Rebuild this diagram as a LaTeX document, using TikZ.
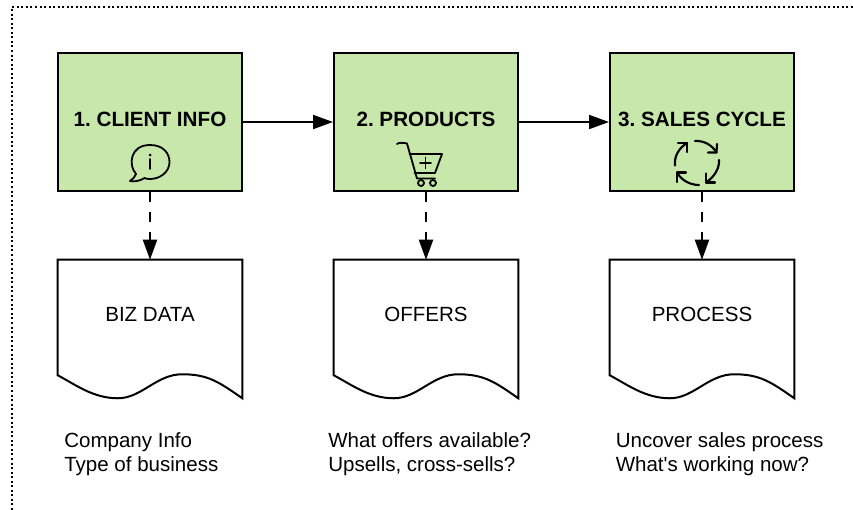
\documentclass[tikz,border=0pt]{standalone}
\usepackage{fontspec}
\setmainfont[Ligatures=TeXOff]{Liberation Sans}
\usetikzlibrary{arrows.meta}
\definecolor{boxgreen}{HTML}{C7E7AB}
\frenchspacing
\tikzset{
  stagebox/.style={draw=black,line width=1.5pt,fill=boxgreen,minimum width=138pt,minimum height=103.5pt,inner sep=0pt},
  docanchor/.style={minimum width=138pt,minimum height=103.5pt,inner sep=0pt},
  doclabel/.style={font=\fontsize{15.4}{18}\selectfont,inner sep=0pt},
  steptitle/.style={font=\fontsize{15.5}{18}\selectfont\bfseries,inner sep=0pt},
  notes/.style={font=\fontsize{15.4}{18}\selectfont,align=left,anchor=north west,inner sep=0pt},
  flow/.style={line width=1.5pt,-{Triangle[length=15pt,width=10.5pt]}},
  dashflow/.style={line width=1.5pt,dash pattern=on 7.5pt off 7.5pt,-{Triangle[length=15pt,width=10.5pt]}},
  docline/.style={draw=black,line width=1.5pt,fill=white,line join=miter},
  icon/.style={line width=1.35pt,line cap=round,line join=round},
  cycleicon/.style={line width=1.6pt,line cap=round,line join=round},
  frameline/.style={line width=1.5pt,dash pattern=on 1.5pt off 1.9pt}
}
\newcommand{\docshape}[1]{%
  \path[docline] (#1.north west) -- (#1.north east) -- (#1.south east)
    .. controls +(-17.25pt,12pt) and +(19.5pt,0pt) .. ([xshift=-45pt,yshift=18pt]#1.south east)
    .. controls +(-19.5pt,0pt) and +(18pt,0pt) .. ([xshift=45pt,yshift=0pt]#1.south west)
    .. controls +(-18pt,0pt) and +(14pt,-7.5pt) .. ([yshift=17.25pt]#1.south west) -- cycle;}
\begin{document}
\begin{tikzpicture}[x=0.75pt,y=-0.75pt]
\useasboundingbox (0,0) rectangle (853,510);
\draw[frameline] (853,7) -- (12,7) -- (12,510);
% process boxes
\node[stagebox] (b1) at (150,122) {};
\node[stagebox] (b2) at (426,122) {};
\node[stagebox] (b3) at (702,122) {};
\node[steptitle] (t1) at (150,119.4) {1. CLIENT INFO};
\node[steptitle] (t2) at (426,119.4) {2. PRODUCTS};
\node[steptitle] (t3) at (702,119.4) {3. SALES CYCLE};
% documents
\node[docanchor] (d1) at (150,329) {};
\node[docanchor] (d2) at (426,329) {};
\node[docanchor] (d3) at (702,329) {};
\docshape{d1}\docshape{d2}\docshape{d3}
\node[doclabel] (l1) at (150,314.4) {BIZ DATA};
\node[doclabel] (l2) at (426,314.4) {OFFERS};
\node[doclabel] (l3) at (702,314.4) {PROCESS};
% connectors
\draw[flow] (b1.east) -- (b2.west);
\draw[flow] (b2.east) -- (b3.west);
\draw[dashflow] (b1.south) -- (d1.north);
\draw[dashflow] (b2.south) -- (d2.north);
\draw[dashflow] (b3.south) -- (d3.north);
% notes
\node[notes] (n1) at (64,432.4) {Company Info\\Type of business};
\node[notes] (n2) at (328,432.4) {What offers available?\\Upsells, cross-sells?};
\node[notes] (n3) at (615.5,432.4) {Uncover sales process\\What's working now?};
% info icon
\draw[icon] (136,174) .. controls (128,165) and (130,145) .. (150,145)
  .. controls (163,145) and (169.5,153) .. (169.5,162)
  .. controls (169.5,172) and (160,179) .. (150,179)
  .. controls (147,179) and (145,178.5) .. (144.5,178)
  .. controls (140,181) and (134,182) .. (130,181)
  .. controls (133,179) and (135,177) .. (136,174) -- cycle;
\draw[icon] (150,159) -- (150,169);
\fill (150,155) circle (1.5);
% cart icon
\draw[icon] (397,144) .. controls (398,142.5) and (404,142.5) .. (407,143.5) -- (417,178.5) -- (435,178.5);
\draw[icon] (409.5,154) -- (442,154) -- (435,173) -- (414.5,173);
\draw[icon] (420,163) -- (431,163) (425.5,157.5) -- (425.5,168.5);
\draw[icon] (421,183) circle (3) (433,183) circle (3);
% cycle icon
\draw[cycleicon] (695,141) .. controls (704,140.5) and (712,145) .. (716.5,152.5);
\draw[cycleicon] (708,152.5) -- (716.5,152.5) -- (717,144);
\draw[cycleicon] (719,160) .. controls (719.5,169) and (714,177) .. (706,182.5);
\draw[cycleicon] (715,182.5) -- (706,182.5) -- (706,173.5);
\draw[cycleicon] (699,185) .. controls (690,185) and (681,180) .. (677,172.5);
\draw[cycleicon] (686,172.5) -- (677,172.5) -- (677,182);
\draw[cycleicon] (675,165.5) .. controls (674,156) and (679,148) .. (687,143);
\draw[cycleicon] (678,143) -- (687,143) -- (687,152);
\end{tikzpicture}
\end{document}
